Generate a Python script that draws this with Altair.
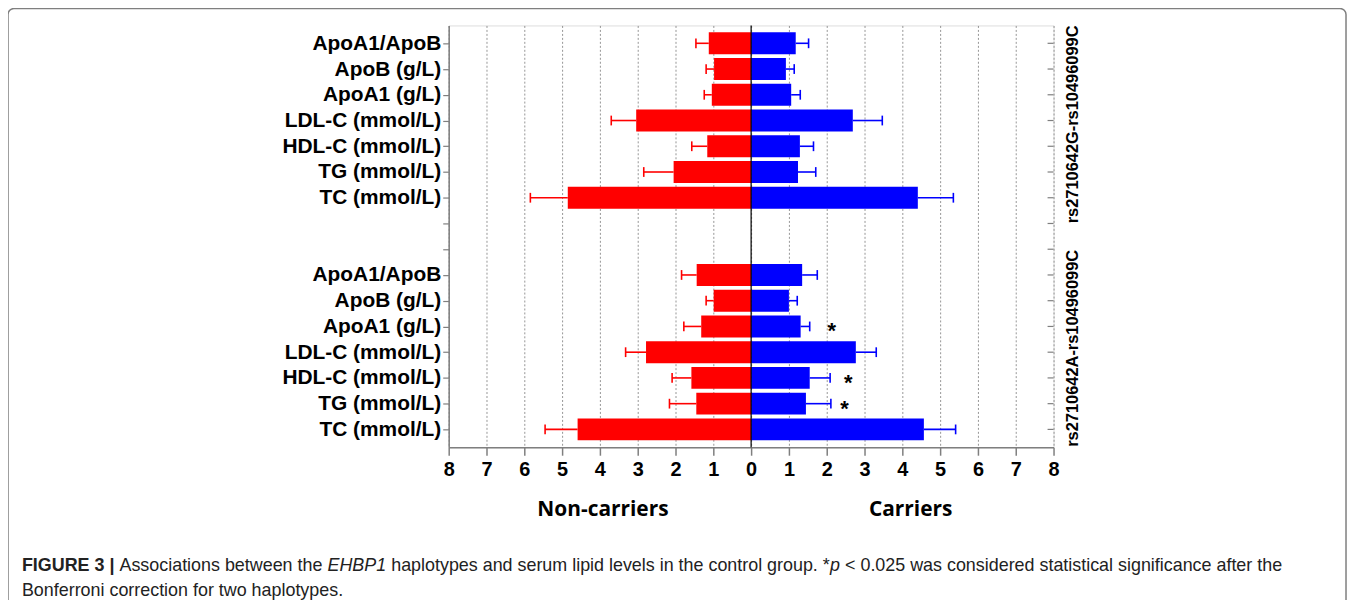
import json
import altair as alt
import pandas as pd

# ---------------- data ----------------
markers = ["TC (mmol/L)", "TG (mmol/L)", "HDL-C (mmol/L)", "LDL-C (mmol/L)",
           "ApoA1 (g/L)", "ApoB (g/L)", "ApoA1/ApoB"]
haplotypes = ["rs2710642G-rs10496099C", "rs2710642A-rs10496099C"]
group_base = [9, 0]          # row offset of each haplotype block (top, bottom)
group_label_pos = [12.85, 4.15]
sides = ["Non-carriers", "Carriers"]
side_label_pos = [-3.92, 4.22]

# rs2710642G-rs10496099C
g_noncarrier_mean = [4.85, 2.05, 1.16, 3.04, 1.04, 0.98, 1.12]
g_noncarrier_sd = [0.99, 0.79, 0.41, 0.66, 0.20, 0.21, 0.34]
g_carrier_mean = [4.41, 1.24, 1.29, 2.69, 1.06, 0.92, 1.18]
g_carrier_sd = [0.94, 0.47, 0.36, 0.78, 0.24, 0.22, 0.34]
g_star_x = [None, None, None, None, None, None, None]

# rs2710642A-rs10496099C
a_noncarrier_mean = [4.59, 1.45, 1.58, 2.78, 1.32, 0.99, 1.44]
a_noncarrier_sd = [0.86, 0.71, 0.51, 0.54, 0.46, 0.20, 0.40]
a_carrier_mean = [4.57, 1.45, 1.55, 2.77, 1.31, 1.00, 1.35]
a_carrier_sd = [0.84, 0.66, 0.54, 0.54, 0.24, 0.22, 0.40]
a_star_x = [None, 2.47, 2.57, None, 2.13, None, None]   # "*" = significant

x_ticks = list(range(-8, 9))
row_ticks = list(range(1, 17))

caption_y = [543, 569]

# ---------------- tables ----------------
rows = []
star_rows = []
blocks = [
    (haplotypes[0], group_base[0], g_noncarrier_mean, g_noncarrier_sd, g_carrier_mean, g_carrier_sd, g_star_x),
    (haplotypes[1], group_base[1], a_noncarrier_mean, a_noncarrier_sd, a_carrier_mean, a_carrier_sd, a_star_x),
]
for hap, base, ncm, ncs, cm, cs, sx in blocks:
    for i, m in enumerate(markers):
        pos = base + i + 1
        for side, mean, sd, sgn in [(sides[0], ncm[i], ncs[i], -1), (sides[1], cm[i], cs[i], 1)]:
            rows.append(dict(hap=hap, marker=m, pos=pos, side=side,
                             zero=0.0, val=sgn * mean, err=sgn * (mean + sd),
                             cap_lo=pos - 0.19, cap_hi=pos + 0.19))
        if sx[i] is not None:
            star_rows.append(dict(pos=pos, sx=sx[i]))
df = pd.DataFrame(rows)
star_df = pd.DataFrame(star_rows)

label_list = [""] * 17
for base in group_base:
    for i, m in enumerate(markers):
        label_list[base + i + 1] = m
label_expr = json.dumps(label_list) + "[datum.value]"

W, H = 608, 424
GRAY = "#7f7f7f"
AXFONT = "Liberation Sans"

xscale = alt.Scale(domain=[-8, 8], nice=False, zero=False)
yscale = alt.Scale(domain=[0.5, 16.5], nice=False, zero=False)
xaxis = alt.Axis(values=x_ticks, labelExpr="abs(datum.value)", title=None,
                 grid=True, gridColor="#7a7a7a", gridDash=[2, 2], gridWidth=0.8,
                 domainColor=GRAY, domainWidth=1.5, tickColor=GRAY, tickWidth=1.5,
                 tickSize=8, labelFont=AXFONT, labelFontSize=20, labelFontWeight="bold",
                 labelColor="black", labelPadding=4, labelFlush=False)
yaxis = alt.Axis(values=row_ticks, labelExpr=label_expr, title=None, grid=False,
                 domainColor=GRAY, domainWidth=1.5, tickColor=GRAY, tickWidth=1.2,
                 tickSize=6, labelFont=AXFONT, labelFontSize=21, labelFontWeight="bold",
                 labelColor="black", labelPadding=2, labelFlush=False)

X = lambda f: alt.X(f, type="quantitative", scale=xscale, axis=xaxis)
Y = lambda f: alt.Y(f, type="quantitative", scale=yscale, axis=yaxis)
color = alt.Color("side:N", scale=alt.Scale(domain=sides, range=["#FF0000", "#0000FF"]), legend=None)

base = alt.Chart(df)

bars = base.mark_bar(orient="horizontal", size=22).encode(
    x=X("val"), x2="zero", y=Y("pos"), color=color)

whisk = base.mark_rule(strokeWidth=1.6).encode(
    x=X("val"), x2="err", y=Y("pos"), color=color)

caps = base.mark_rule(strokeWidth=1.6).encode(
    x=X("err"), y=Y("cap_lo"), y2="cap_hi", color=color)

stars = alt.Chart(star_df).mark_text(
    text="*", font=AXFONT, fontSize=22, fontWeight="bold", color="black",
    dy=5, align="center", baseline="middle").encode(x=X("sx"), y=Y("pos"))

zero_df = pd.DataFrame({"x": [0]})
zero_line = alt.Chart(zero_df).mark_rule(color="black", strokeWidth=1.2).encode(
    x=X("x"), y=alt.value(0), y2=alt.value(H))

tick_df = pd.DataFrame({"t": row_ticks})
right_ticks = alt.Chart(tick_df).mark_rule(color=GRAY, strokeWidth=1.2).encode(
    x=alt.value(W - 6), x2=alt.value(W), y=Y("t"))

grp_df = pd.DataFrame({"hap": haplotypes, "center": group_label_pos})
grp_labels = alt.Chart(grp_df).mark_text(
    angle=270, font=AXFONT, fontSize=16.5, fontWeight="bold", color="black",
    align="center", baseline="middle").encode(
    x=alt.value(W + 20), y=Y("center"), text="hap:N")

side_df = pd.DataFrame({"side": sides, "xc": side_label_pos})
side_labels = alt.Chart(side_df).mark_text(
    font="Open Sans", fontSize=21, fontWeight="bold", color="black",
    align="center", baseline="middle").encode(
    x=X("xc"), y=alt.value(487), text="side:N")

# caption (mixed styles -> separate segments, laid out with Arial-metric widths)
REG = {" ": 278, "A": 667, "B": 667, "E": 667, "H": 722, "P": 667, "a": 556, "b": 556,
       "c": 500, "d": 556, "e": 556, "f": 278, "g": 556, "h": 556, "i": 222, "l": 222,
       "m": 833, "n": 556, "o": 556, "p": 556, "r": 333, "s": 500, "t": 278, "u": 556,
       "v": 500, "w": 722, "y": 500, ".": 278, "*": 389, "<": 584, "0": 556, "1": 556,
       "2": 556, "5": 556}
BOLD = {"F": 611, "I": 278, "G": 778, "U": 722, "R": 722, "E": 667, " ": 278, "3": 556, "|": 280}
CAP_SIZE = 18
caption_segments = [
    ("FIGURE 3 | ", "bold"),
    ("Associations between the ", "regular"),
    ("EHBP1", "italic"),
    (" haplotypes and serum lipid levels in the control group. *", "regular"),
    ("p", "italic"),
    (" < 0.025 was considered statistical significance after the", "regular"),
]
caption_line2 = "Bonferroni correction for two haplotypes."
CAP_X0 = 22 - 451


def text_w(txt, table):
    return sum(table.get(ch, 556) for ch in txt) / 1000.0 * CAP_SIZE


seg_rows = []
cx = CAP_X0
for txt, sty in caption_segments:
    table = BOLD if sty == "bold" else REG
    lead = len(txt) - len(txt.lstrip(" "))
    seg_rows.append(dict(text=txt.strip(" "), style=sty,
                         px=cx + text_w(" " * lead, table), py=caption_y[0]))
    cx += text_w(txt, table)
seg_rows.append(dict(text=caption_line2, style="regular", px=CAP_X0, py=caption_y[1]))
cap_df = pd.DataFrame(seg_rows)


def cap_layer(style, **kw):
    return alt.Chart(cap_df).transform_filter(f"datum.style == '{style}'").mark_text(
        font=AXFONT, fontSize=CAP_SIZE, color="#222222", align="left",
        baseline="middle", **kw).encode(
        x=alt.X("px:Q", scale=None), y=alt.Y("py:Q", scale=None), text="text:N")


cap_bold = cap_layer("bold", fontWeight="bold")
cap_reg = cap_layer("regular")
cap_it = cap_layer("italic", fontStyle="italic")

frame_df = pd.DataFrame({"k": [0]})
frame = alt.Chart(frame_df).mark_rect(
    fillOpacity=0, stroke=GRAY, strokeWidth=1.5, cornerRadius=6).encode(
    x=alt.value(8 - 451), x2=alt.value(1353 - 451), y=alt.value(7 - 24), y2=alt.value(800))

chart = alt.layer(
    frame, bars, whisk, caps, zero_line, right_ticks, stars,
    grp_labels, side_labels, cap_bold, cap_reg, cap_it
).properties(
    width=W, height=H,
    autosize=alt.AutoSizeParams(type="none"),
    padding={"left": 443, "top": 16, "right": 296, "bottom": 152},
).configure_view(stroke=GRAY, strokeWidth=1.5).configure(background="white")

chart.save("out.html", embed_options={"renderer": "svg", "actions": False})
